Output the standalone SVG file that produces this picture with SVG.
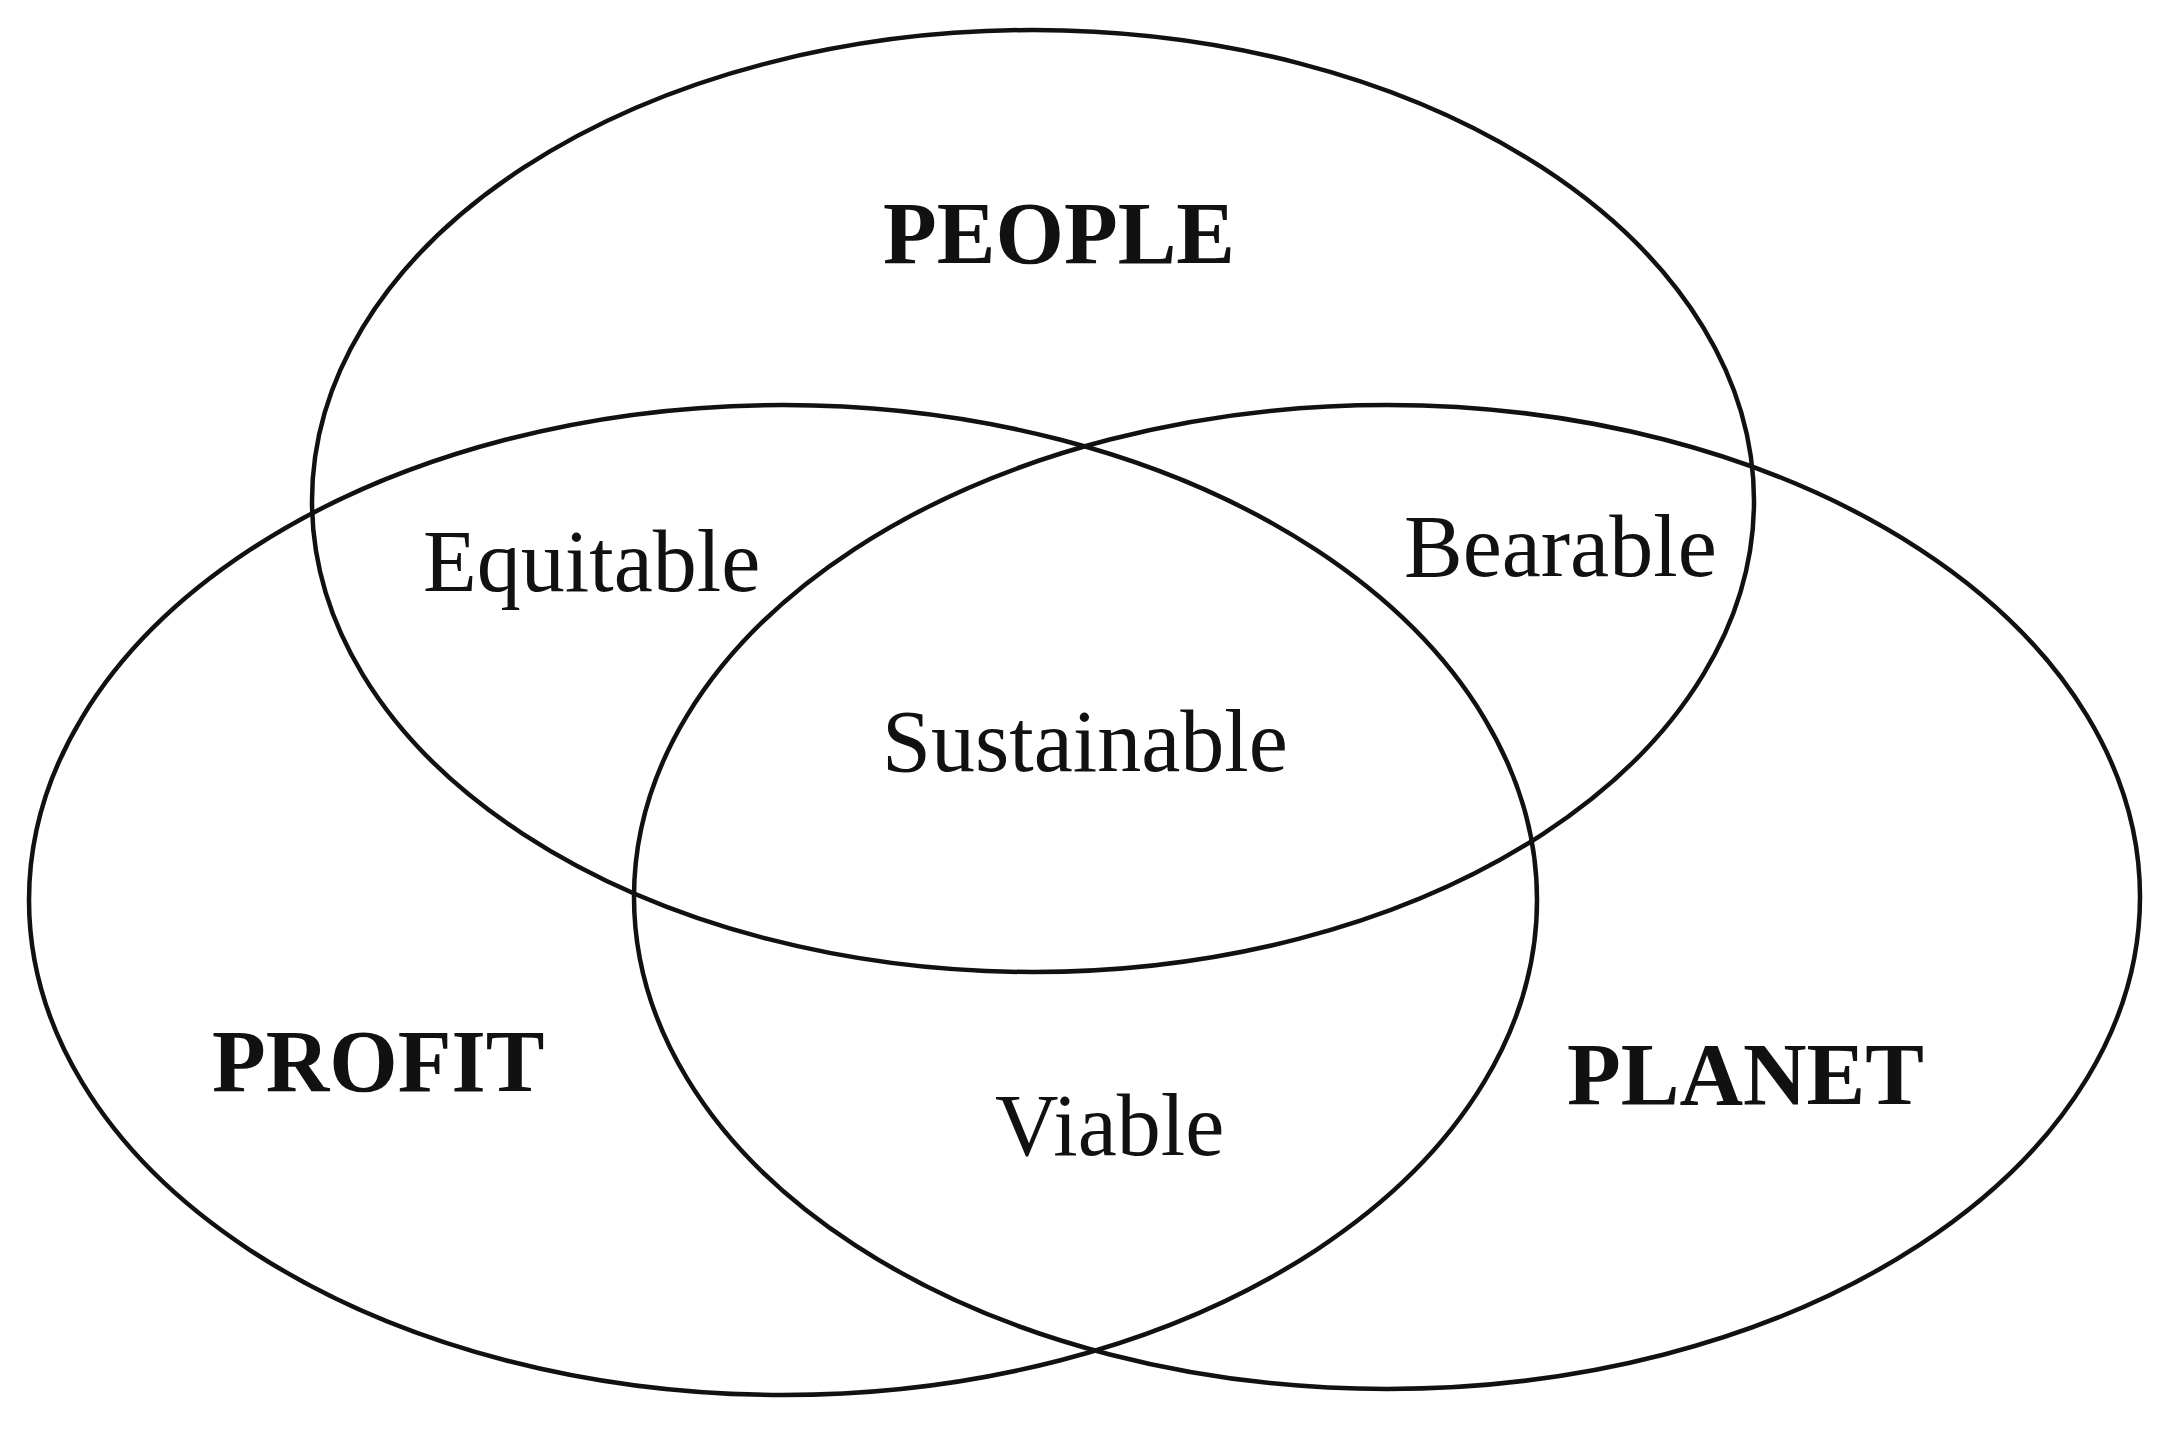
<svg xmlns="http://www.w3.org/2000/svg" width="2174" height="1430" viewBox="0 0 2174 1430">
<style>
.c{fill:none;stroke:#111;stroke-width:4.5}
.b{font-family:"Liberation Serif","Times New Roman",serif;font-weight:bold;font-size:88px;fill:#111}
.r{font-family:"Liberation Serif","Times New Roman",serif;font-size:88px;fill:#111}
</style>
<rect width="2174" height="1430" fill="#fff"/>
<g id="people"><ellipse class="c" cx="1033" cy="501" rx="721" ry="471"/><text class="b" x="883" y="263">PEOPLE</text></g>
<g id="profit"><ellipse class="c" cx="783" cy="900" rx="754" ry="495"/><text class="b" x="212" y="1091">PROFIT</text></g>
<g id="planet"><ellipse class="c" cx="1387" cy="897" rx="753" ry="492"/><text class="b" x="1567" y="1104">PLANET</text></g>
<g id="labels">
<text class="r" x="423" y="591">Equitable</text>
<text class="r" x="1404" y="576">Bearable</text>
<text class="r" x="882" y="771">Sustainable</text>
<text class="r" x="995" y="1155" font-size="86">Viable</text>
</g>
</svg>
